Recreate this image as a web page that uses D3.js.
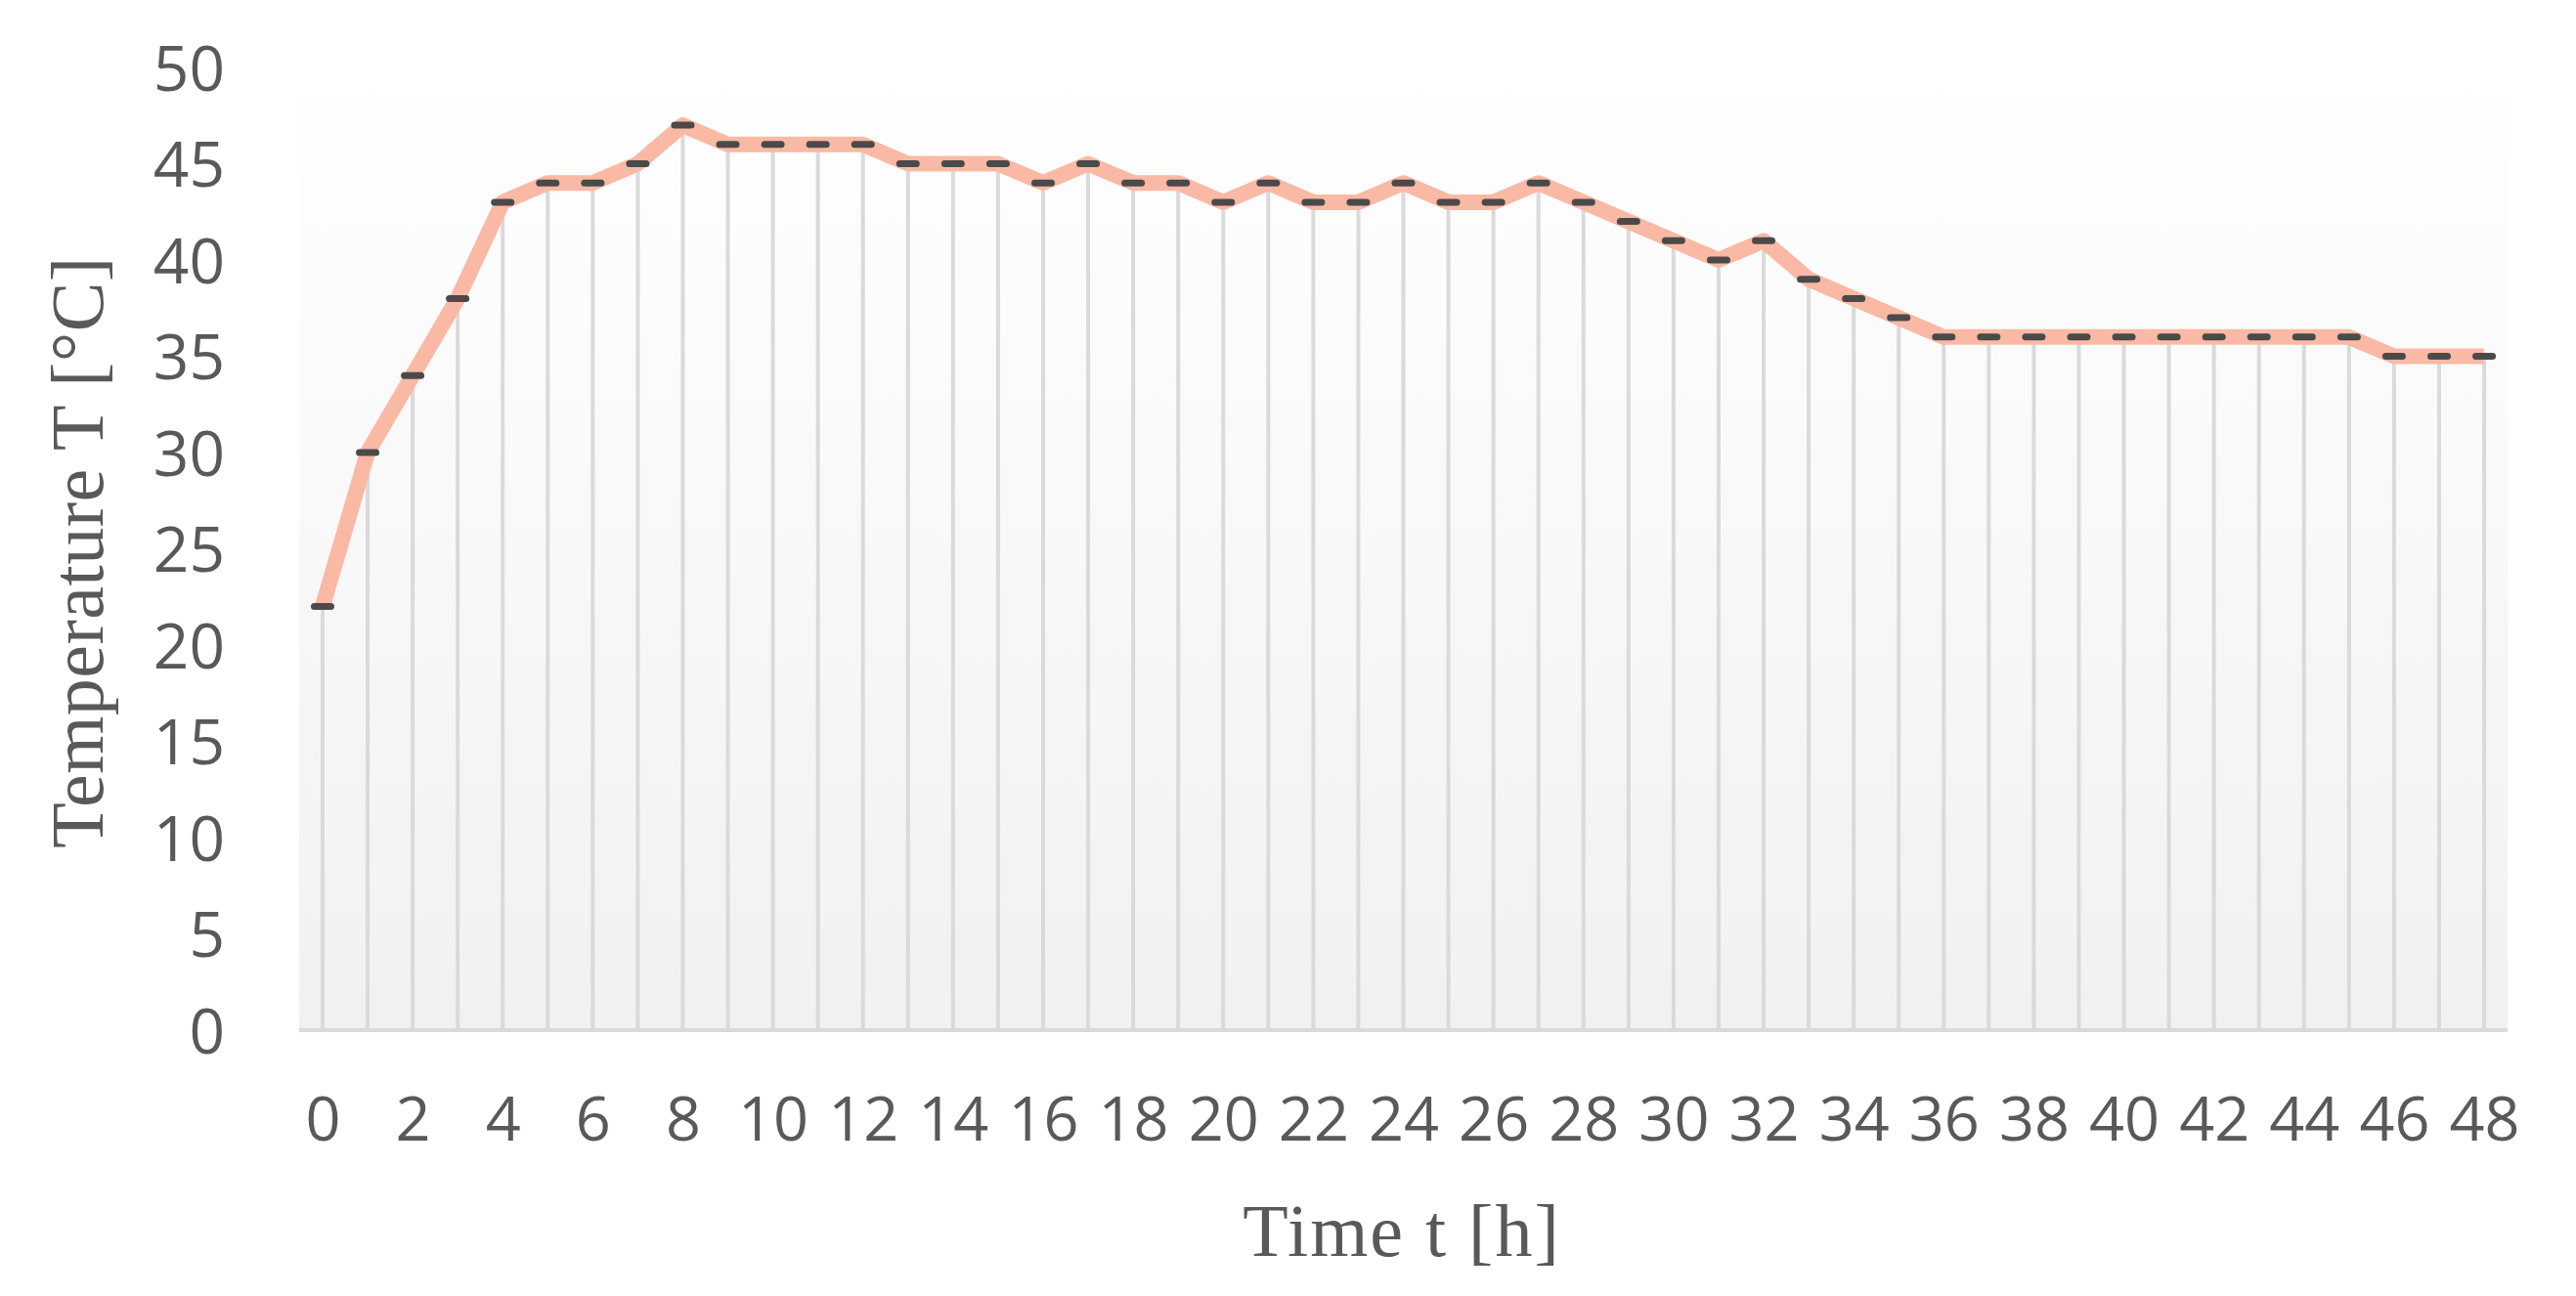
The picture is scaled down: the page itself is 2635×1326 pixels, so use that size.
<!DOCTYPE html>
<html>
<head>
<meta charset="utf-8">
<script src="https://cdn.jsdelivr.net/npm/d3@7"></script>
<style>
  html, body { margin: 0; padding: 0; background: #ffffff; }
  svg { display: block; }
</style>
</head>
<body>
<script>
// ---- Data ----
const hours = [0,1,2,3,4,5,6,7,8,9,10,11,12,13,14,15,16,17,18,19,20,21,22,23,24,
               25,26,27,28,29,30,31,32,33,34,35,36,37,38,39,40,41,42,43,44,45,46,47,48];
const temperature = [22,30,34,38,43,44,44,45,47,46,46,46,46,45,45,45,44,45,44,44,43,44,43,43,44,
                     43,43,44,43,42,41,40,41,39,38,37,36,36,36,36,36,36,36,36,36,36,35,35,35];
const xTickLabels = [0,2,4,6,8,10,12,14,16,18,20,22,24,26,28,30,32,34,36,38,40,42,44,46,48];
const yTickLabels = [0,5,10,15,20,25,30,35,40,45,50];
const xTitle = "Time t [h]";
const yTitle = "Temperature T [°C]";

// ---- Layout ----
const W = 2635, H = 1326;
const plot = { left: 306, right: 2565, top: 69, bottom: 1054 };

const svg = d3.select("body").append("svg").attr("width", W).attr("height", H);

const x = d3.scaleLinear().domain([-0.52, 48.52]).range([plot.left, plot.right]);
const y = d3.scaleLinear().domain([0, 50]).range([plot.bottom, plot.top]);

// background gradient
const defs = svg.append("defs");
const grad = defs.append("linearGradient").attr("id", "bg")
  .attr("x1", 0).attr("y1", 0).attr("x2", 0).attr("y2", 1);
grad.append("stop").attr("offset", "0%").attr("stop-color", "#ffffff");
grad.append("stop").attr("offset", "100%").attr("stop-color", "#f1f1f1");

svg.append("rect")
  .attr("x", plot.left).attr("y", plot.top)
  .attr("width", plot.right - plot.left).attr("height", plot.bottom - plot.top)
  .attr("fill", "url(#bg)");

const data = hours.map((h, i) => ({ h, v: temperature[i] }));

// drop lines
svg.append("g").selectAll("line").data(data).join("line")
  .attr("x1", d => x(d.h)).attr("x2", d => x(d.h))
  .attr("y1", d => y(d.v)).attr("y2", y(0))
  .attr("stroke", "#dadada").attr("stroke-width", 4);

// baseline
svg.append("line")
  .attr("x1", plot.left).attr("x2", plot.right)
  .attr("y1", y(0)).attr("y2", y(0))
  .attr("stroke", "#d9d9d9").attr("stroke-width", 4);

// series line
svg.append("path").datum(data)
  .attr("d", d3.line().x(d => x(d.h)).y(d => y(d.v)))
  .attr("fill", "none")
  .attr("stroke", "#fab9a4")
  .attr("stroke-width", 16)
  .attr("stroke-linejoin", "round")
  .attr("stroke-linecap", "butt");

// markers (dash)
svg.append("g").selectAll("rect").data(data).join("rect")
  .attr("x", d => x(d.h) - 12).attr("y", d => y(d.v) - 3.5)
  .attr("width", 24).attr("height", 7).attr("rx", 3.5)
  .attr("fill", "#4a4a4a");

// axes
const tickFont = "'Open Sans', sans-serif";
const xAxis = svg.append("g")
  .attr("transform", `translate(0,${plot.bottom})`)
  .call(d3.axisBottom(x).tickValues(xTickLabels).tickSize(0).tickPadding(0).tickFormat(d3.format("d")));
xAxis.select(".domain").remove();
xAxis.selectAll("text")
  .attr("y", 113).attr("dy", null)
  .attr("font-family", tickFont).attr("font-size", 63).attr("fill", "#595959");

const yAxis = svg.append("g")
  .attr("transform", `translate(230,0)`)
  .call(d3.axisLeft(y).tickValues(yTickLabels).tickSize(0).tickPadding(0).tickFormat(d3.format("d")));
yAxis.select(".domain").remove();
yAxis.selectAll("text")
  .attr("x", 0).attr("dy", "0.36em")
  .attr("font-family", tickFont).attr("font-size", 64).attr("fill", "#595959");

// titles
svg.append("text")
  .attr("x", 1434).attr("y", 1285)
  .attr("text-anchor", "middle")
  .attr("font-family", "'Liberation Serif', serif").attr("font-size", 76)
  .attr("letter-spacing", 2)
  .attr("fill", "#595959")
  .text(xTitle);

svg.append("text")
  .attr("transform", "translate(105,565) rotate(-90)")
  .attr("text-anchor", "middle")
  .attr("font-family", "'Liberation Serif', serif").attr("font-size", 76)
  .attr("letter-spacing", 0.5)
  .attr("fill", "#595959")
  .text(yTitle);
</script>
</body>
</html>
